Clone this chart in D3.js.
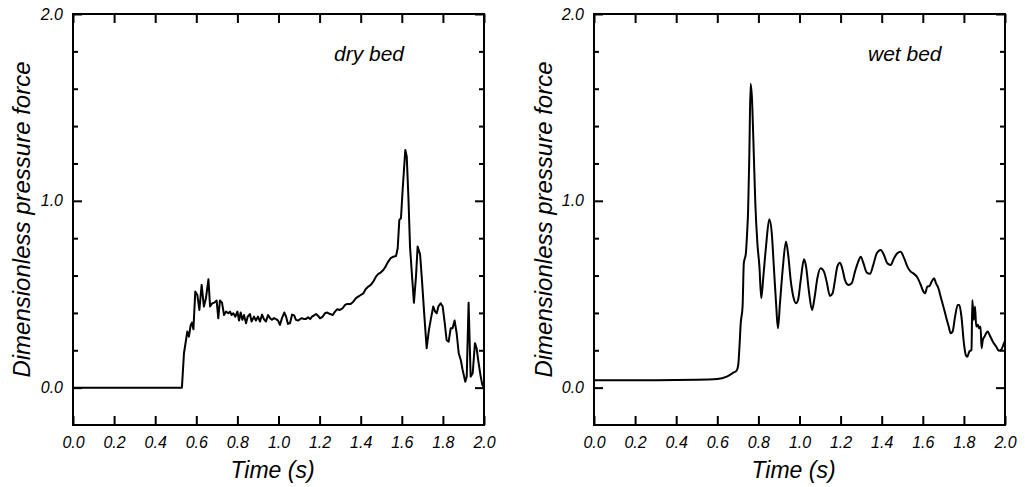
<!DOCTYPE html>
<html>
<head>
<meta charset="utf-8">
<script src="https://cdn.jsdelivr.net/npm/d3@7"></script>
<style>
  html, body { margin: 0; padding: 0; background: #ffffff; }
  svg { display: block; }
  text { font-family: "Liberation Sans", Arial, sans-serif; font-style: italic; fill: #000; }
</style>
</head>
<body>
<svg id="chart" width="1025" height="487"></svg>
<script>
// ---------- data ----------
const dryTime = [0.0, 0.530, 0.540, 0.550, 0.556, 0.564, 0.573, 0.579, 0.586, 0.595, 0.605, 0.615, 0.626, 0.637, 0.647, 0.659, 0.667, 0.678, 0.688, 0.699, 0.707, 0.715, 0.725, 0.735, 0.745, 0.756, 0.764, 0.772, 0.780, 0.790, 0.800, 0.808, 0.816, 0.824, 0.832, 0.842, 0.850, 0.861, 0.869, 0.881, 0.890, 0.900, 0.910, 0.920, 0.929, 0.939, 0.949, 0.959, 0.968, 0.978, 0.988, 0.998, 1.007, 1.017, 1.028, 1.037, 1.046, 1.056, 1.066, 1.076, 1.085, 1.095, 1.105, 1.114, 1.124, 1.134, 1.144, 1.154, 1.163, 1.173, 1.183, 1.193, 1.202, 1.215, 1.226, 1.238, 1.251, 1.264, 1.275, 1.286, 1.299, 1.312, 1.324, 1.335, 1.351, 1.364, 1.377, 1.388, 1.400, 1.413, 1.424, 1.437, 1.449, 1.461, 1.474, 1.486, 1.497, 1.510, 1.521, 1.534, 1.546, 1.559, 1.572, 1.580, 1.588, 1.596, 1.604, 1.617, 1.624, 1.632, 1.640, 1.650, 1.659, 1.669, 1.677, 1.689, 1.698, 1.710, 1.721, 1.732, 1.742, 1.753, 1.762, 1.770, 1.778, 1.789, 1.799, 1.809, 1.818, 1.828, 1.838, 1.847, 1.857, 1.867, 1.877, 1.887, 1.896, 1.909, 1.916, 1.925, 1.935, 1.945, 1.956, 1.964, 1.974, 1.984, 1.992, 2.0];
const dryForce = [0.0, 0.0, 0.184, 0.255, 0.300, 0.273, 0.336, 0.348, 0.312, 0.514, 0.496, 0.416, 0.550, 0.434, 0.479, 0.580, 0.434, 0.452, 0.455, 0.466, 0.372, 0.466, 0.455, 0.389, 0.407, 0.398, 0.407, 0.389, 0.398, 0.380, 0.407, 0.359, 0.402, 0.363, 0.389, 0.345, 0.380, 0.394, 0.354, 0.380, 0.359, 0.380, 0.354, 0.391, 0.367, 0.354, 0.389, 0.372, 0.363, 0.372, 0.367, 0.359, 0.336, 0.372, 0.402, 0.380, 0.341, 0.345, 0.391, 0.387, 0.363, 0.359, 0.367, 0.372, 0.367, 0.368, 0.376, 0.367, 0.380, 0.387, 0.394, 0.384, 0.371, 0.380, 0.398, 0.402, 0.394, 0.389, 0.407, 0.420, 0.416, 0.425, 0.443, 0.448, 0.448, 0.460, 0.479, 0.487, 0.496, 0.505, 0.527, 0.541, 0.550, 0.567, 0.594, 0.609, 0.616, 0.630, 0.648, 0.675, 0.693, 0.701, 0.705, 0.746, 0.898, 0.907, 1.058, 1.272, 1.237, 1.023, 0.755, 0.594, 0.455, 0.594, 0.755, 0.714, 0.577, 0.380, 0.211, 0.309, 0.371, 0.434, 0.407, 0.398, 0.434, 0.452, 0.434, 0.345, 0.255, 0.246, 0.318, 0.318, 0.359, 0.291, 0.184, 0.148, 0.095, 0.032, 0.059, 0.455, 0.059, 0.077, 0.238, 0.211, 0.130, 0.059, 0.014, 0.0];

const wetTime = [0.0, 0.30, 0.50, 0.60, 0.646, 0.678, 0.694, 0.702, 0.707, 0.714, 0.723, 0.729, 0.739, 0.745, 0.750, 0.756, 0.762, 0.769, 0.775, 0.785, 0.795, 0.805, 0.814, 0.824, 0.837, 0.853, 0.865, 0.876, 0.886, 0.895, 0.905, 0.918, 0.934, 0.946, 0.957, 0.970, 0.983, 0.993, 1.006, 1.022, 1.032, 1.045, 1.061, 1.074, 1.087, 1.103, 1.119, 1.132, 1.148, 1.161, 1.173, 1.184, 1.197, 1.210, 1.221, 1.238, 1.254, 1.270, 1.286, 1.298, 1.311, 1.327, 1.343, 1.359, 1.376, 1.395, 1.411, 1.427, 1.444, 1.460, 1.476, 1.492, 1.509, 1.525, 1.541, 1.557, 1.573, 1.590, 1.603, 1.611, 1.622, 1.632, 1.643, 1.655, 1.664, 1.676, 1.687, 1.700, 1.713, 1.726, 1.736, 1.745, 1.757, 1.770, 1.778, 1.788, 1.800, 1.809, 1.817, 1.826, 1.837, 1.841, 1.848, 1.854, 1.860, 1.868, 1.873, 1.881, 1.886, 1.892, 1.900, 1.916, 1.925, 1.941, 1.957, 1.970, 1.981, 1.992, 1.998];
const wetForce = [0.040, 0.040, 0.042, 0.046, 0.059, 0.080, 0.091, 0.122, 0.202, 0.344, 0.434, 0.666, 0.719, 0.826, 0.950, 1.255, 1.626, 1.540, 1.344, 0.987, 0.773, 0.648, 0.479, 0.594, 0.755, 0.901, 0.827, 0.630, 0.452, 0.318, 0.452, 0.630, 0.782, 0.701, 0.577, 0.487, 0.452, 0.469, 0.577, 0.687, 0.648, 0.523, 0.416, 0.487, 0.586, 0.639, 0.621, 0.568, 0.491, 0.505, 0.577, 0.648, 0.669, 0.630, 0.577, 0.550, 0.559, 0.621, 0.675, 0.701, 0.666, 0.616, 0.609, 0.657, 0.719, 0.737, 0.710, 0.666, 0.657, 0.693, 0.719, 0.728, 0.693, 0.648, 0.621, 0.609, 0.591, 0.550, 0.514, 0.505, 0.541, 0.544, 0.567, 0.586, 0.559, 0.532, 0.487, 0.434, 0.380, 0.327, 0.291, 0.300, 0.380, 0.443, 0.443, 0.380, 0.238, 0.175, 0.166, 0.193, 0.202, 0.469, 0.362, 0.434, 0.327, 0.336, 0.318, 0.327, 0.211, 0.255, 0.273, 0.300, 0.282, 0.246, 0.220, 0.198, 0.202, 0.229, 0.246];

const xTickValues = [0.0, 0.2, 0.4, 0.6, 0.8, 1.0, 1.2, 1.4, 1.6, 1.8, 2.0];
const yMajorTicks = [0.0, 1.0, 2.0];
const yMinorTicks = [0.2, 0.4, 0.6, 0.8, 1.2, 1.4, 1.6, 1.8];
const panelLabels = ["dry bed", "wet bed"];
const xTitle = "Time (s)";
const yTitle = "Dimensionless pressure force";

// ---------- drawing ----------
const svg = d3.select("#chart");
const plotTop = 14, plotBottom = 425;
const panels = [
  { left: 73, right: 484, t: dryTime, v: dryForce, label: panelLabels[0], labelX: 334, yTitleX: 30, curve: d3.curveLinear },
  { left: 594, right: 1005, t: wetTime, v: wetForce, label: panelLabels[1], labelX: 868, yTitleX: 552, curve: d3.curveMonotoneX }
];

panels.forEach(p => {
  const x = d3.scaleLinear().domain([0, 2]).range([p.left, p.right]);
  const y = d3.scaleLinear().domain([-0.2, 2.0]).range([plotBottom, plotTop]);
  const g = svg.append("g");
  const fmt = d3.format(".1f");

  g.append("g").attr("transform", `translate(0,${plotBottom})`)
    .call(d3.axisBottom(x).tickValues(xTickValues).tickSize(-9).tickPadding(12).tickFormat(fmt));
  g.append("g").attr("transform", `translate(0,${plotTop})`)
    .call(d3.axisTop(x).tickValues(xTickValues).tickSize(-9).tickFormat(""));
  g.append("g").attr("transform", `translate(${p.left},0)`)
    .call(d3.axisLeft(y).tickValues(yMajorTicks).tickSize(-9).tickPadding(10).tickFormat(fmt));
  g.append("g").attr("transform", `translate(${p.left},0)`)
    .call(d3.axisLeft(y).tickValues(yMinorTicks).tickSize(-5).tickFormat(""));
  g.append("g").attr("transform", `translate(${p.right},0)`)
    .call(d3.axisRight(y).tickValues(yMajorTicks).tickSize(-9).tickFormat(""));
  g.append("g").attr("transform", `translate(${p.right},0)`)
    .call(d3.axisRight(y).tickValues(yMinorTicks).tickSize(-5).tickFormat(""));

  g.selectAll(".domain").remove();
  g.selectAll(".tick line").attr("stroke", "#000").attr("stroke-width", 2);
  g.selectAll(".tick text")
    .attr("font-family", "Liberation Sans, Arial, sans-serif")
    .attr("font-style", "italic")
    .attr("font-size", 16)
    .attr("fill", "#000");

  g.append("rect")
    .attr("x", p.left).attr("y", plotTop)
    .attr("width", p.right - p.left).attr("height", plotBottom - plotTop)
    .attr("fill", "none").attr("stroke", "#000").attr("stroke-width", 2);

  const pts = p.t.map((t, i) => [t, p.v[i]]);
  const line = d3.line().x(d => x(d[0])).y(d => y(d[1])).curve(p.curve);
  g.append("path").datum(pts)
    .attr("d", line)
    .attr("fill", "none").attr("stroke", "#000")
    .attr("stroke-width", 2).attr("stroke-linejoin", "round");

  g.append("text").attr("x", p.labelX).attr("y", 61)
    .attr("font-size", 21).text(p.label);

  g.append("text").attr("x", (p.left + p.right) / 2 - 6).attr("y", 478)
    .attr("text-anchor", "middle").attr("font-size", 23).text(xTitle);

  g.append("text")
    .attr("transform", `translate(${p.yTitleX},${(plotTop + plotBottom) / 2}) rotate(-90)`)
    .attr("text-anchor", "middle").attr("font-size", 24).text(yTitle);
});
</script>
</body>
</html>
